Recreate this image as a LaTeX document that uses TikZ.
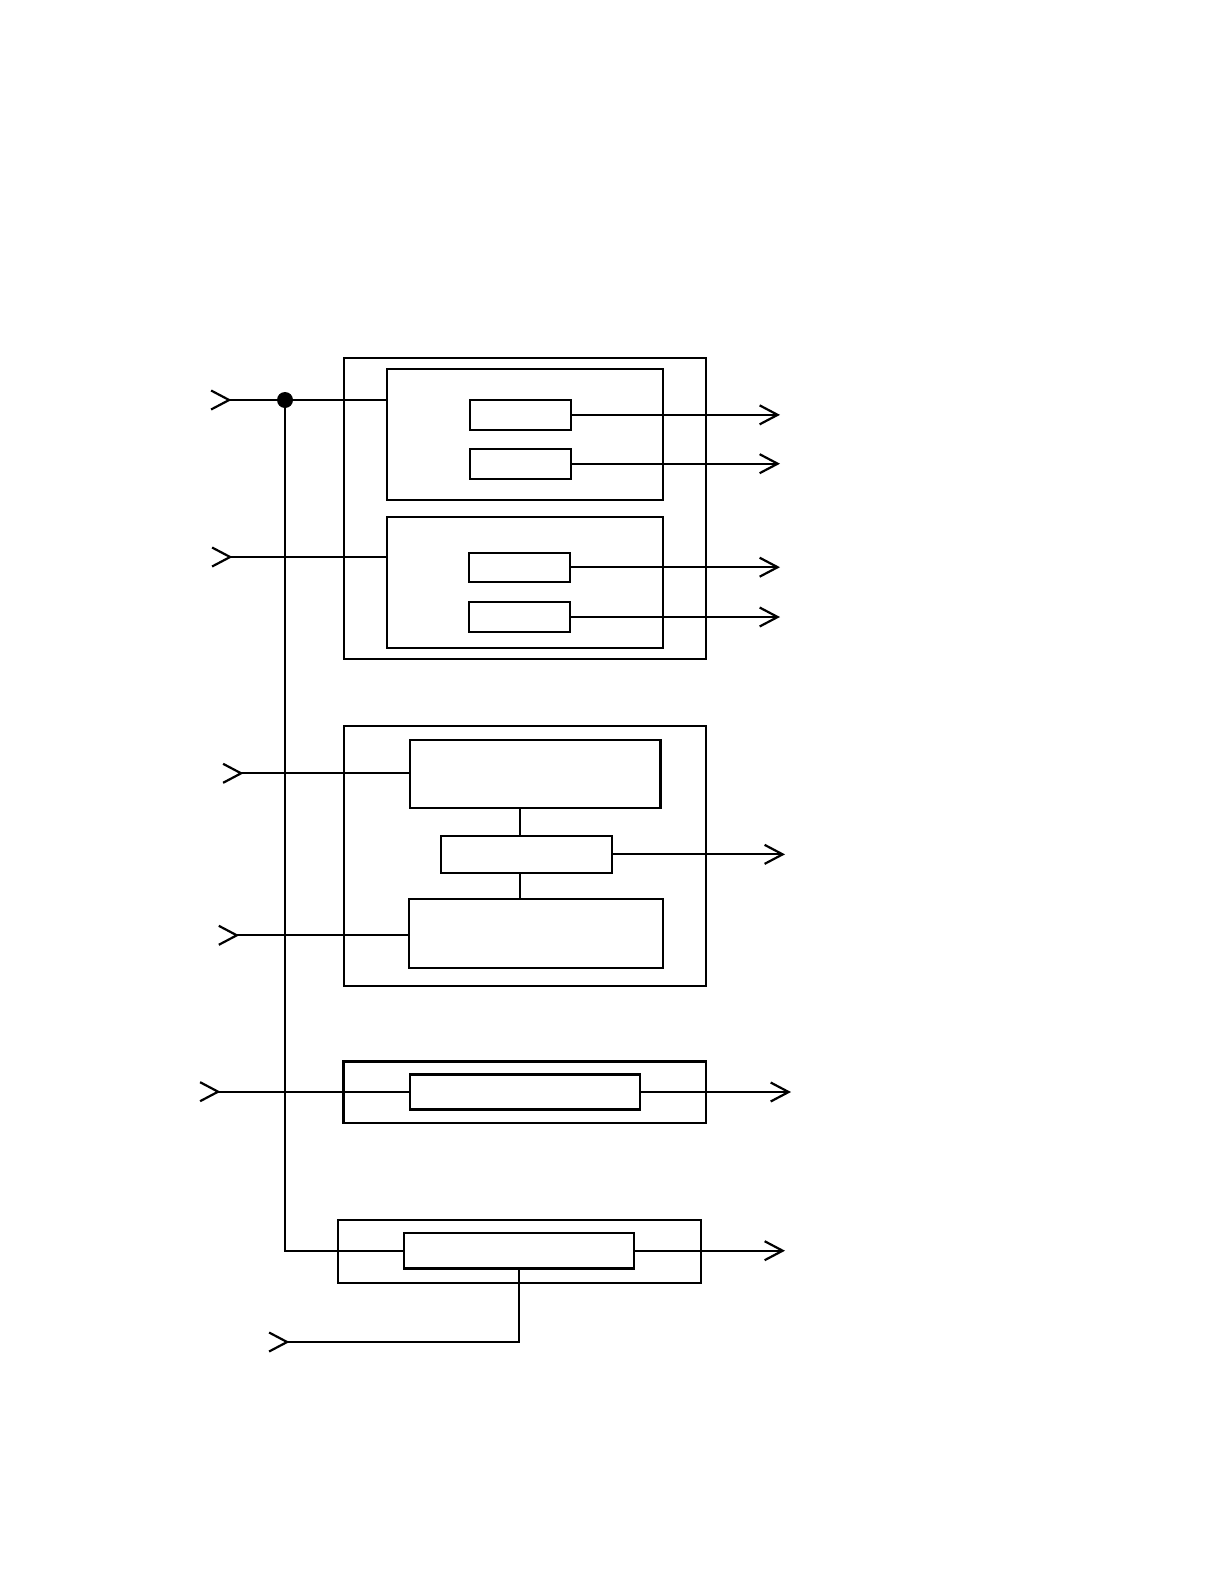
\documentclass[tikz,border=0pt]{standalone}
\usetikzlibrary{arrows.meta,positioning,fit}
\tikzset{
  blk/.style={draw, line width=1.1pt, inner sep=0pt, outer sep=0pt},
  wire/.style={line width=1.1pt},
  outarr/.style={wire, -{Straight Barb[length=9pt,width=9.5pt]}},
  inarr/.style={wire, {Straight Barb[reversed,length=9pt,width=9.5pt]}-},
  jdot/.style={circle, fill=black, inner sep=0pt, minimum size=8pt},
}

\begin{document}
\begin{tikzpicture}[x=0.5pt, y=-0.5pt]
  \useasboundingbox (0,0) rectangle (1224,1584);
  % first group: two sub-units, two channels each
  \node[blk, fit={(343.7,357.7) (706,658.7)}] (g1) {};
  \node[blk, fit={(387,369) (663.3,499.7)}] (ua) {};
  \node[blk, fit={(387,517) (663.3,647.7)}] (ub) {};
  \node[blk, fit={(469.7,400) (571,429.7)}] (s1) {};
  \node[blk, fit={(469.7,448.7) (571,478.7)}] (s2) {};
  \node[blk, fit={(468.7,552.7) (570,581.7)}] (s3) {};
  \node[blk, fit={(468.7,602) (570,632)}] (s4) {};
  % second group
  \node[blk, fit={(343.7,725.7) (706,985.7)}] (g2) {};
  \node[blk, fit={(409.7,739.7) (660.5,807.7)}] (tb) {};
  \node[blk, fit={(440.7,836) (612.3,872.7)}] (mb) {};
  \node[blk, fit={(408.7,898.7) (662.6,967.7)}] (bb) {};
  % single-unit groups
  \node[blk, fit={(343.4,1061.5) (706,1123)}] (g3) {};
  \node[blk, fit={(410,1074.5) (640,1109.5)}] (u5) {};
  \node[blk, fit={(338.3,1220) (701,1282.6)}] (g4) {};
  \node[blk, fit={(404,1233) (634,1268.4)}] (u6) {};

  % input and output ends
  \coordinate (i1) at (210,400);
  \coordinate (i2) at (211,557);
  \coordinate (i3) at (222,773.3);
  \coordinate (i4) at (217.7,935.3);
  \coordinate (i5) at (199,1091.7);
  \coordinate (i6) at (268,1342);
  \coordinate (oA) at (780,0);
  \coordinate (oB) at (785,0);
  \coordinate (oC) at (791,0);
  \node[jdot] (jd) at (285,400) {};

  \draw[inarr] (i1) -- (ua.west |- i1);
  \draw[inarr] (i2) -- (ub.west |- i2);
  \draw[inarr] (i3) -- (tb.west |- i3);
  \draw[inarr] (i4) -- (bb.west |- i4);
  \draw[inarr] (i5) -- (u5.west |- i5);
  \draw[inarr] (i6) -| (u6.south);
  \draw[wire] (jd.center) |- (u6.west);

  \foreach \s in {s1,s2,s3,s4}
    \draw[outarr] (\s.east) -- (\s.east -| oA);
  \draw[outarr] (mb.east) -- (mb.east -| oB);
  \draw[outarr] (u5.east) -- (u5.east -| oC);
  \draw[outarr] (u6.east) -- (u6.east -| oB);

  \draw[wire] ([xshift=-3.25pt]mb.north) -- ([xshift=-3.25pt]mb.north |- tb.south);
  \draw[wire] ([xshift=-3.25pt]mb.south) -- ([xshift=-3.25pt]mb.south |- bb.north);
\end{tikzpicture}
\end{document}
